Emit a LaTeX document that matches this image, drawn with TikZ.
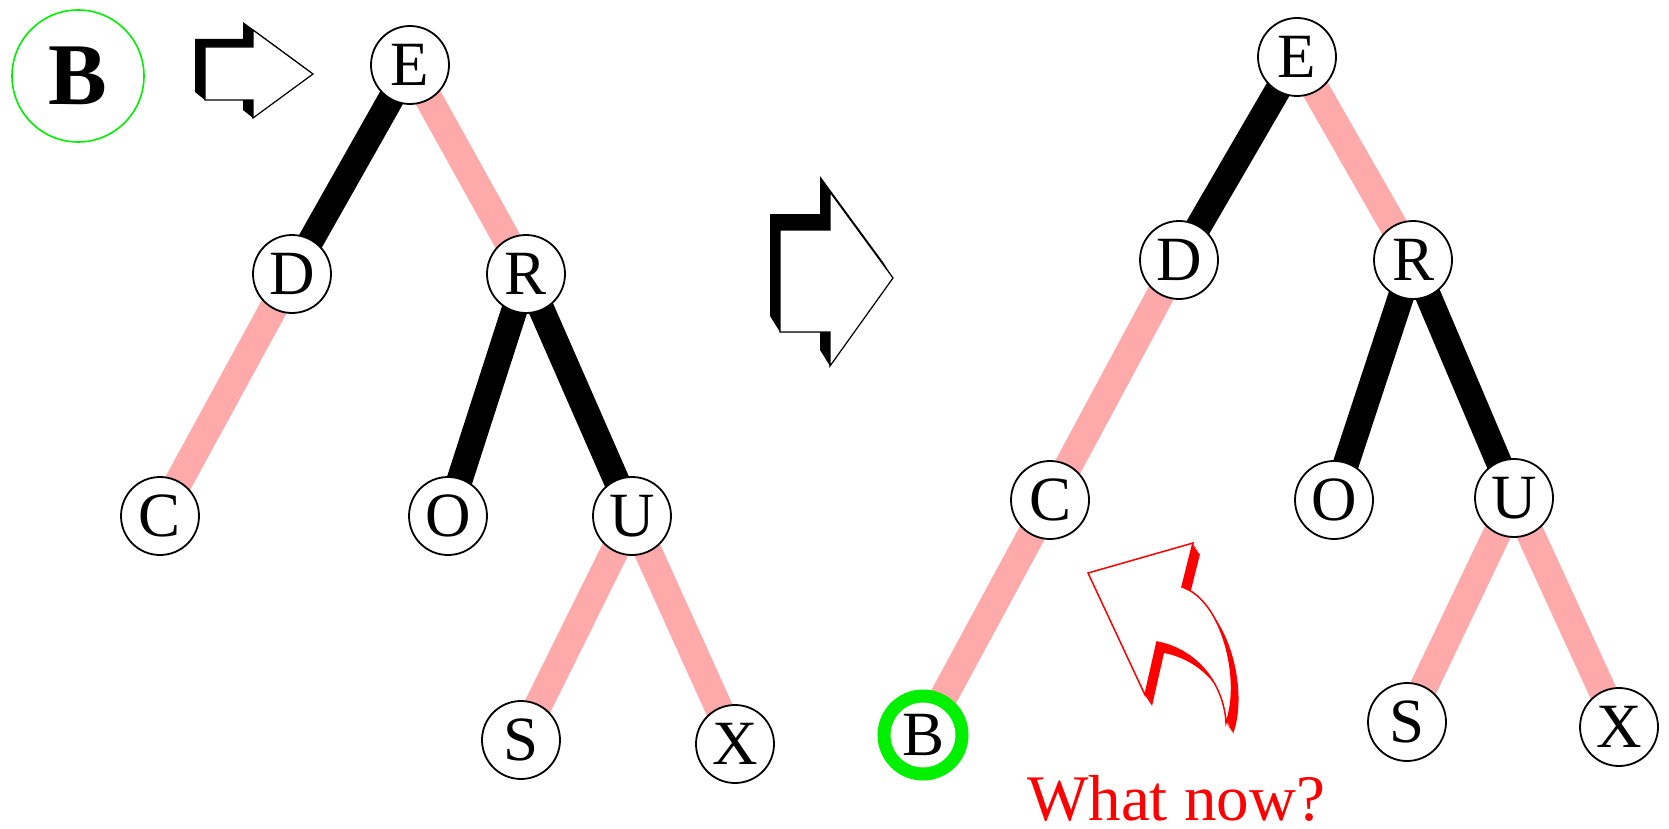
\documentclass[tikz,border=0pt]{standalone}
\usepackage{fontspec}
\setmainfont{Liberation Serif}
\usetikzlibrary{backgrounds}
\definecolor{edgepink}{RGB}{255,170,170}
\definecolor{keygreen}{RGB}{0,240,0}
\definecolor{askred}{RGB}{255,0,0}

\begin{document}
\begin{tikzpicture}[
  x=1pt,y=-1pt,
  keynode/.style={circle,draw=black,line width=1.8pt,fill=white,minimum size=78pt,inner sep=0pt,
                  font=\fontsize{63}{63}\selectfont},
  newkey/.style={keynode,draw=keygreen,line width=13pt},
  blackedge/.style={line width=26pt,black},
  pinkedge/.style={line width=28pt,edgepink},
  blockarrow/.style={fill=white,draw=black,line width=1.2pt},
  turnback/.style={insert path={(1088,573) -- (1193,543) -- (1182,587)
      .. controls (1222,600) and (1242,680) .. (1226,723)
      .. controls (1224,685) and (1198,650) .. (1157,642) -- (1145,695) -- cycle}}
]
  \useasboundingbox (0,0) rectangle (1669,829);

  \node[circle,draw=keygreen,line width=1.6pt,minimum size=132pt,inner sep=0pt,
        font=\fontsize{88}{88}\selectfont\bfseries] (insert) at (78,76) {B};

  \fill[black] (195,39) -- (243,39) -- (243,22) -- (303,66) -- (313,74) -- (253,118)
    -- (243,110) -- (243,100) -- (205,100) -- (195,92) -- cycle;
  \filldraw[blockarrow] (205,47) -- (253,47) -- (253,30) -- (313,74) -- (253,118)
    -- (253,100) -- (205,100) -- cycle;

  \node[keynode] (lE) at (410,65) {E};
  \node[keynode] (lD) at (292,274) {D};
  \node[keynode] (lR) at (526,274) {R};
  \node[keynode] (lC) at (160,516) {C};
  \node[keynode] (lO) at (448,516) {O};
  \node[keynode] (lU) at (632,516) {U};
  \node[keynode] (lS) at (521,740) {S};
  \node[keynode] (lX) at (735,744) {X};

  \fill[black] (770,214) -- (820,214) -- (820,176) -- (883,262) -- (893,278) -- (830,366)
    -- (820,350) -- (820,332) -- (780,332) -- (770,316) -- cycle;
  \filldraw[blockarrow] (780,230) -- (830,230) -- (830,192) -- (893,278) -- (830,366)
    -- (830,332) -- (780,332) -- cycle;

  \node[keynode] (rE) at (1297,57) {E};
  \node[keynode] (rD) at (1179,260) {D};
  \node[keynode] (rR) at (1413,260) {R};
  \node[keynode] (rC) at (1050,500) {C};
  \node[keynode] (rO) at (1334,500) {O};
  \node[keynode] (rU) at (1514,498) {U};
  \node[keynode] (rS) at (1407,722) {S};
  \node[keynode] (rX) at (1619,727) {X};
  \node[newkey] (rB) at (923,735) {B};

  \foreach \s in {1,...,8}
    \fill[askred,shift={(0.875*\s,1.375*\s)},turnback];
  \filldraw[fill=white,draw=askred,line width=1.5pt,turnback];

  \node[anchor=base west,inner sep=0pt,text=askred,font=\fontsize{65}{65}\selectfont]
    (whatnow) at (1027,820) {What now?};

  \begin{scope}[on background layer]
    \fill[white] (0,0) rectangle (1669,829);
    \draw[blackedge] (lE.center) -- (lD.center);
    \draw[pinkedge] (lE.center) -- (lR.center);
    \draw[pinkedge] (lD.center) -- (lC.center);
    \draw[blackedge] (lR.center) -- (lO.center);
    \draw[blackedge] (lR.center) -- (lU.center);
    \draw[pinkedge] (lU.center) -- (lS.center);
    \draw[pinkedge] (lU.center) -- (lX.center);
    \draw[blackedge] (rE.center) -- (rD.center);
    \draw[pinkedge] (rE.center) -- (rR.center);
    \draw[pinkedge] (rD.center) -- (rC.center);
    \draw[pinkedge] (rC.center) -- (rB.center);
    \draw[blackedge] (rR.center) -- (rO.center);
    \draw[blackedge] (rR.center) -- (rU.center);
    \draw[pinkedge] (rU.center) -- (rS.center);
    \draw[pinkedge] (rU.center) -- (rX.center);
  \end{scope}
\end{tikzpicture}
\end{document}
